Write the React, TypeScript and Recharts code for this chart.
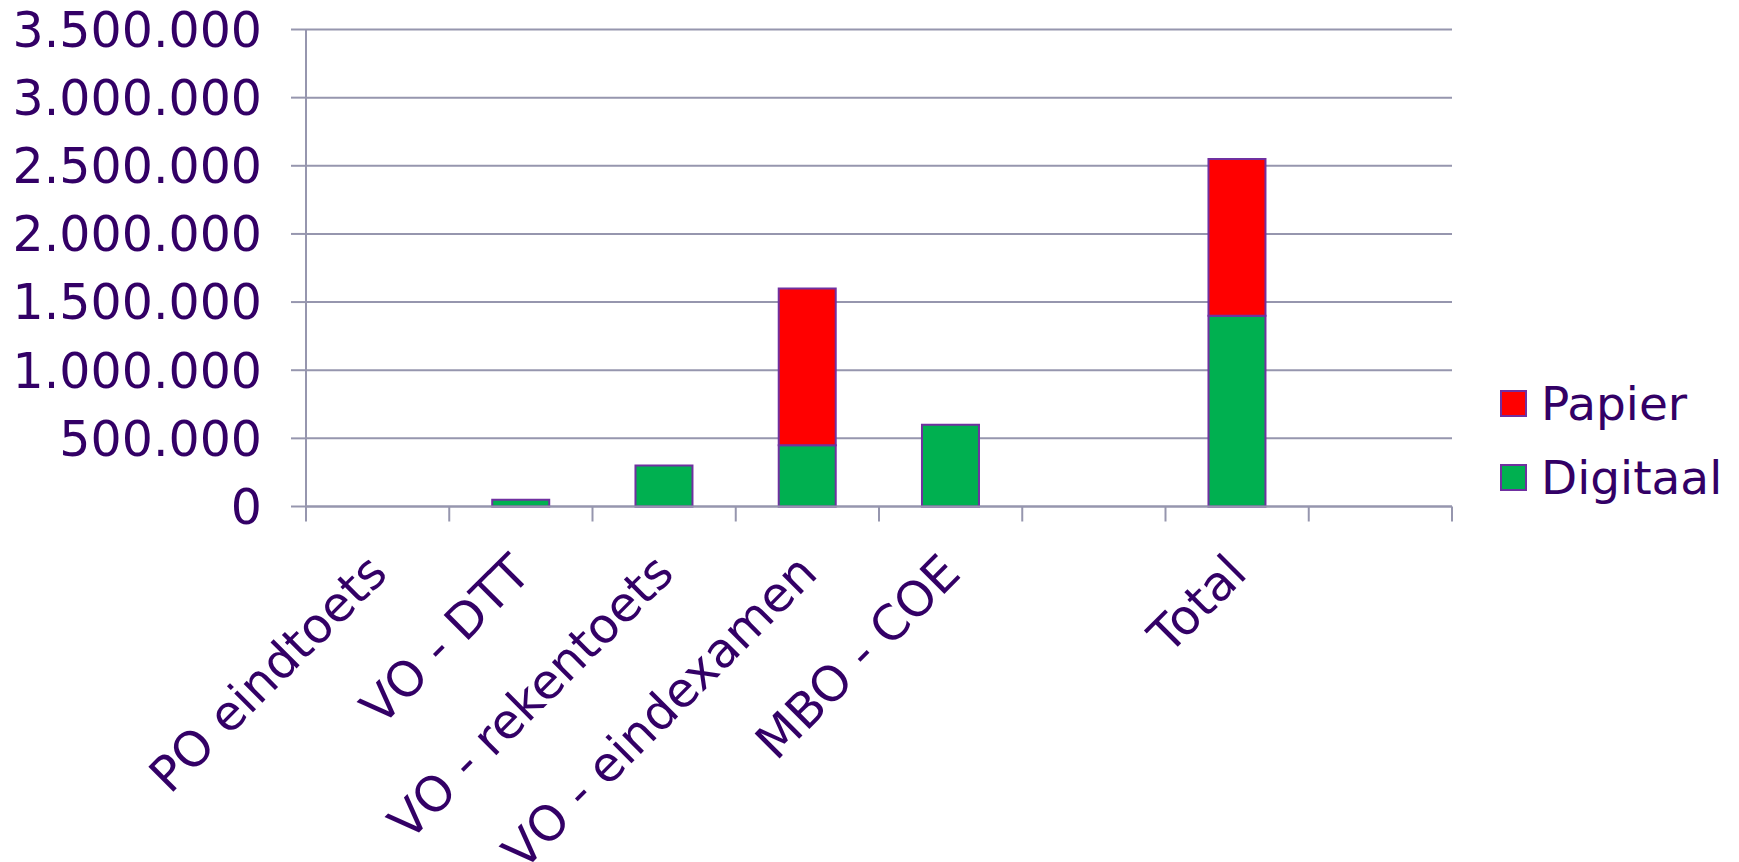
import React from 'react';
import { BarChart, Bar, XAxis, YAxis, CartesianGrid, Legend } from 'recharts';

const categories = ['PO eindtoets', 'VO - DTT', 'VO - rekentoets', 'VO - eindexamen', 'MBO - COE', '', 'Total', ''];
const digitaal = [0, 50000, 300000, 450000, 600000, 0, 1400000, 0];
const papier = [0, 0, 0, 1150000, 0, 0, 1150000, 0];
const yTicks = [0, 500000, 1000000, 1500000, 2000000, 2500000, 3000000, 3500000];

const data = categories.map((name, i) => ({ name, Digitaal: digitaal[i], Papier: papier[i] }));

const TEXT = '#330066';
const AXIS = '#9696ae';
const BORDER = '#7030a0';
const FONT = '"DejaVu Sans", Verdana, sans-serif';

const fmt = (v: number) => String(v).replace(/\B(?=(\d{3})+(?!\d))/g, '.');

const XTick = (props: any) => {
  const { x, y, payload, index, visibleTicksCount, width } = props;
  const half = payload.offset || width / visibleTicksCount / 2;
  const tx = x + 12;
  const ty = y + 69;
  return (
    <g>
      <line x1={x - half} x2={x - half} y1={y} y2={y + 15} stroke={AXIS} strokeWidth={2} />
      {index === visibleTicksCount - 1 && (
        <line x1={x + half} x2={x + half} y1={y} y2={y + 15} stroke={AXIS} strokeWidth={2} />
      )}
      <text
        x={tx}
        y={ty}
        transform={`rotate(-45 ${tx} ${ty})`}
        textAnchor="end"
        fill={TEXT}
        fontSize={48.5}
        fontFamily={FONT}
      >
        {payload.value}
      </text>
    </g>
  );
};

const legendItems = [
  { label: 'Papier', color: '#ff0000' },
  { label: 'Digitaal', color: '#00b050' },
];

const renderLegend = () => (
  <div style={{ fontFamily: FONT, fontSize: 47, color: TEXT }}>
    {legendItems.map((it) => (
      <div key={it.label} style={{ display: 'flex', alignItems: 'center', height: 74, lineHeight: '74px' }}>
        <div
          style={{
            width: 27,
            height: 27,
            boxSizing: 'border-box',
            background: it.color,
            border: `2px solid ${BORDER}`,
            marginRight: 14,
          }}
        />
        <span>{it.label}</span>
      </div>
    ))}
  </div>
);

export default function App() {
  return (
    <div style={{ position: 'absolute', left: 0, top: 0, background: '#fff' }}>
      <BarChart
        width={1739}
        height={862}
        data={data}
        margin={{ top: 29.5, right: 287, left: 0, bottom: 0 }}
        barCategoryGap="30%"
      >
        <CartesianGrid vertical={false} stroke={AXIS} strokeWidth={2} />
        <XAxis
          dataKey="name"
          height={355.5}
          interval={0}
          tickLine={false}
          tickSize={0}
          tickMargin={0}
          axisLine={{ stroke: AXIS, strokeWidth: 2 }}
          tick={<XTick />}
        />
        <YAxis
          width={306}
          domain={[0, 3500000]}
          ticks={yTicks}
          interval={0}
          tickFormatter={fmt}
          tickSize={15}
          tickMargin={29}
          axisLine={{ stroke: AXIS, strokeWidth: 2 }}
          tickLine={{ stroke: AXIS, strokeWidth: 2 }}
          tick={{ fill: TEXT, fontSize: 49, fontFamily: FONT }}
        />
        <Legend
          layout="vertical"
          align="center"
          verticalAlign="middle"
          content={renderLegend}
          wrapperStyle={{ left: 1500, top: 366.7, width: 239 }}
        />
        <Bar dataKey="Digitaal" stackId="a" fill="#00b050" stroke={BORDER} strokeWidth={2} isAnimationActive={false} />
        <Bar dataKey="Papier" stackId="a" fill="#ff0000" stroke={BORDER} strokeWidth={2} isAnimationActive={false} />
      </BarChart>
    </div>
  );
}
